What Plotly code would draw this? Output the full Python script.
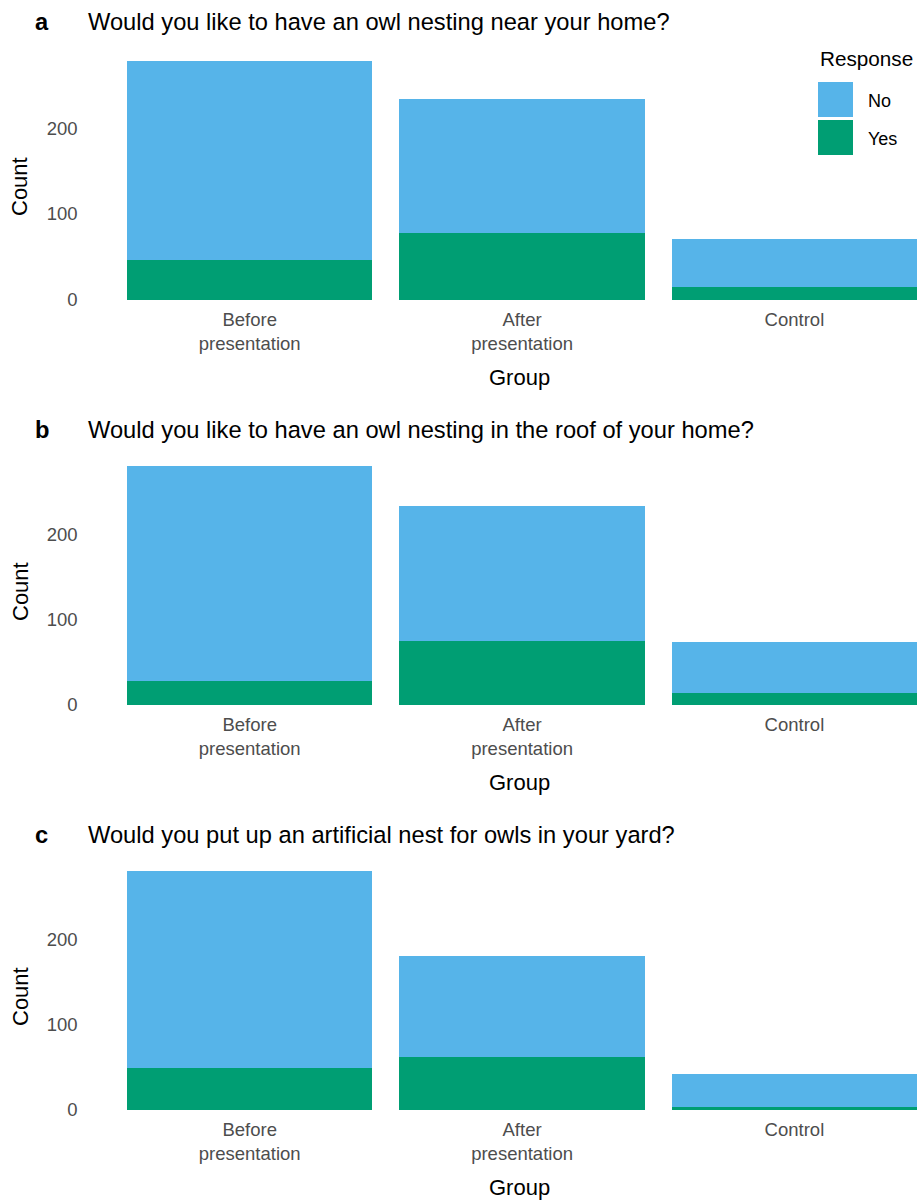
import plotly.graph_objects as go

W, H = 917, 1201

groups = ["Before<br>presentation", "After<br>presentation", "Control"]
panel_letters = ["a", "b", "c"]
panel_titles = [
    "Would you like to have an owl nesting near your home?",
    "Would you like to have an owl nesting in the roof of your home?",
    "Would you put up an artificial nest for owls in your yard?",
]
yes_a = [47, 78, 15]
no_a = [231, 156, 56]
yes_b = [28, 75, 14]
no_b = [253, 159, 60]
yes_c = [49, 62, 4]
no_c = [232, 119, 38]
y_ticks = [0, 100, 200]

BLUE = "#56B4E9"
GREEN = "#009E73"
FONT = "Liberation Sans, Arial, sans-serif"

panels = [(yes_a, no_a), (yes_b, no_b), (yes_c, no_c)]
base_px = [300, 705, 1110]
top_px = [49, 454, 859]
title_px = [22, 430, 835]

fig = go.Figure()
annotations = []
shapes = []

def py(p):
    return (H - p) / H

def px(p):
    return p / W

for i, (yes, no) in enumerate(panels):
    sfx = "" if i == 0 else str(i + 1)
    xa = "x" + sfx
    ya = "y" + sfx
    fig.add_trace(go.Bar(x=groups, y=yes, name="Yes", marker_color=GREEN,
                         marker_line_width=0, width=0.9, xaxis=xa, yaxis=ya,
                         showlegend=False))
    fig.add_trace(go.Bar(x=groups, y=no, name="No", marker_color=BLUE,
                         marker_line_width=0, width=0.9, xaxis=xa, yaxis=ya,
                         showlegend=False))
    ymax = max(a + b for a, b in zip(yes, no)) * 1.05
    fig.layout["xaxis" + sfx] = dict(
        domain=[px(113.5), 1], anchor=ya, range=[-0.5, 2.45], automargin=False,
        showgrid=False, zeroline=False, showline=False,
        ticks="outside", ticklen=3, tickcolor="rgba(0,0,0,0)",
        tickfont=dict(family=FONT, size=18.5, color="#4D4D4D"),
    )
    fig.layout["yaxis" + sfx] = dict(
        domain=[py(base_px[i]), py(top_px[i])], anchor=xa, range=[0, ymax],
        automargin=False,
        tickvals=y_ticks, showgrid=False, zeroline=False, showline=False,
        ticklabelstandoff=35,
        tickfont=dict(family=FONT, size=18.5, color="#4D4D4D"),
    )
    annotations.append(dict(text="Count", x=px(20), y=py((base_px[i] + top_px[i]) / 2 + 12.5),
                            xref="paper", yref="paper", showarrow=False, textangle=-90,
                            font=dict(family=FONT, size=22, color="black"),
                            xanchor="center", yanchor="middle"))
    annotations.append(dict(text="Group", x=px(519), y=py(base_px[i] + 77),
                            xref="paper", yref="paper", showarrow=False,
                            font=dict(family=FONT, size=22, color="black"),
                            xanchor="center", yanchor="middle"))
    annotations.append(dict(text="<b>" + panel_letters[i] + "</b>", x=px(33), y=py(title_px[i]),
                            xref="paper", yref="paper", showarrow=False,
                            font=dict(family=FONT, size=23.7, color="black"),
                            xanchor="left", yanchor="middle"))
    annotations.append(dict(text=panel_titles[i], x=px(86), y=py(title_px[i]),
                            xref="paper", yref="paper", showarrow=False,
                            font=dict(family=FONT, size=23.7, color="black"),
                            xanchor="left", yanchor="middle"))

annotations.append(dict(text="Response", x=px(818), y=py(59), xref="paper", yref="paper",
                        showarrow=False, font=dict(family=FONT, size=20.7, color="black"),
                        xanchor="left", yanchor="middle"))
for lbl, col, y0 in [("No", BLUE, 82), ("Yes", GREEN, 120)]:
    shapes.append(dict(type="rect", xref="paper", yref="paper",
                       x0=px(818), x1=px(853), y0=py(y0), y1=py(y0 + 35),
                       fillcolor=col, line_width=0))
    annotations.append(dict(text=lbl, x=px(866), y=py(y0 + 19), xref="paper", yref="paper",
                            showarrow=False, font=dict(family=FONT, size=18, color="black"),
                            xanchor="left", yanchor="middle"))

fig.update_layout(
    width=W, height=H, barmode="stack", bargap=0.1,
    margin=dict(l=0, r=0, t=0, b=0, autoexpand=False),
    paper_bgcolor="white", plot_bgcolor="white",
    annotations=annotations, shapes=shapes,
    font=dict(family=FONT),
)

fig.write_html("out.html")
